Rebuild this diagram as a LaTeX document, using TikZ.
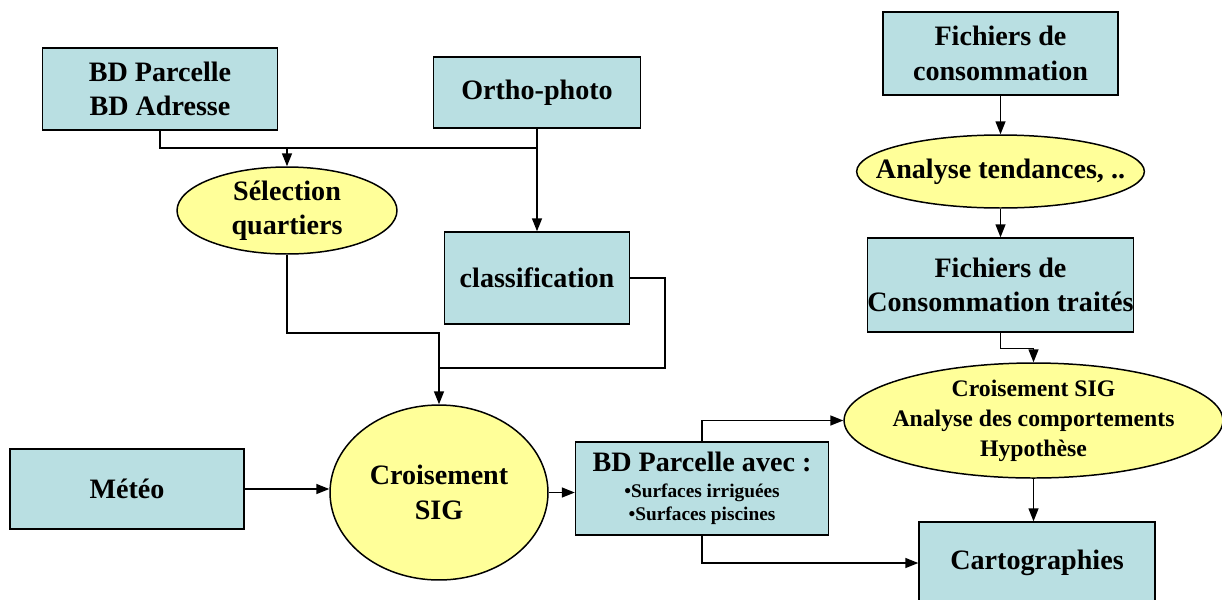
\documentclass[tikz,border=0pt]{standalone}
\usepackage{fontspec}
\setmainfont{Liberation Serif}
\usepackage{tikz}
\usetikzlibrary{shapes.geometric,arrows.meta}
\definecolor{boxcyan}{HTML}{B9DFE2}
\definecolor{ovalyellow}{HTML}{FFFF99}
\newcommand{\bul}[1]{{\fontsize{11}{13}\selectfont •#1}}

\begin{document}
\begin{tikzpicture}
    [x=0.02cm, y=-0.02cm, line width=0.85pt,
     >={Triangle[length=2.6mm,width=2mm]},
     box/.style={draw, fill=boxcyan, align=center, inner sep=0pt,
       font=\bfseries\fontsize{16}{19.5}\selectfont},
     oval/.style={ellipse, draw, fill=ovalyellow, align=center, inner sep=0pt,
       font=\bfseries\fontsize{16}{19.5}\selectfont}]
    \useasboundingbox (0, 0) rectangle (1222, 599);
    % left part
    \node[box, minimum width=4.70cm, minimum height=1.64cm] (parc) at (160, 89)
      {BD Parcelle\\BD Adresse};
    \node[box, minimum width=4.14cm, minimum height=1.42cm] (ortho) at (537, 92.5)
      {Ortho-photo};
    \node[oval, minimum width=4.40cm, minimum height=1.74cm] (selq) at (287, 210.5)
      {S\'election\\quartiers};
    \node[box, minimum width=3.70cm, minimum height=1.84cm] (classif) at (537, 278)
      {classification};
    \node[oval, minimum width=4.36cm, minimum height=3.50cm] (crois) at (439, 492.5)
      {Croisement\\SIG};
    \node[box, minimum width=4.68cm, minimum height=1.60cm] (meteo) at (127, 489)
      {M\'et\'eo};
    \node[box, minimum width=5.06cm, minimum height=1.86cm] (bdavec) at (702, 488.5)
      {BD Parcelle avec :\\[-5pt]\bul{Surfaces irrigu\'ees}\\[-6pt]\bul{Surfaces piscines}};
    % right part
    \node[box, minimum width=4.70cm, minimum height=1.66cm] (fcons) at (1000.5, 53.5)
      {Fichiers de\\consommation};
    \node[oval, minimum width=5.70cm, minimum height=1.46cm, inner xsep=-13pt] (tend)
      at (1000.5, 171.5) {Analyse tendances, ..};
    \node[box, minimum width=5.30cm, minimum height=1.88cm] (ftrait) at (1000.5, 285)
      {Fichiers de\\Consommation trait\'es};
    \node[oval, minimum width=7.54cm, minimum height=2.22cm, inner xsep=-4pt,
      font=\bfseries\fontsize{13.5}{17}\selectfont] (analy) at (1033.5, 420.5)
      {Croisement SIG\\Analyse des comportements\\Hypoth\`ese};
    \node[box, minimum width=4.72cm, minimum height=1.64cm] (carto) at (1037, 563)
      {Cartographies};
    % connectors
    \coordinate (jo) at (537, 148);
    \coordinate (ja) at (439, 333);
    \coordinate (jb) at (439, 368);
    \coordinate (kc) at (665, 368);
    \draw (parc.south) |- (jo);
    \draw[->] (ortho.south) -- (jo) -| (selq.north);
    \draw[->] (jo) -- (classif.north);
    \draw[->] (selq.south) |- (ja) -- (crois.north);
    \draw (classif.east) -| (kc) -- (jb);
    \draw[->] (meteo.east) -- (crois.west |- meteo.east);
    \draw[->] (crois.east) -- (bdavec.west |- crois.east);
    \draw[->] (bdavec.north) |- (analy.west);
    \draw[->] (bdavec.south) |- (carto.west);
    \draw[->] (fcons.south) -- (tend.north);
    \draw[->] (tend.south) -- (ftrait.north);
    \draw[->] (ftrait.south) -- ++(0, 16) -| (analy.north);
    \draw[->] (analy.south) -- (analy.south |- carto.north);
  \end{tikzpicture}
\end{document}
